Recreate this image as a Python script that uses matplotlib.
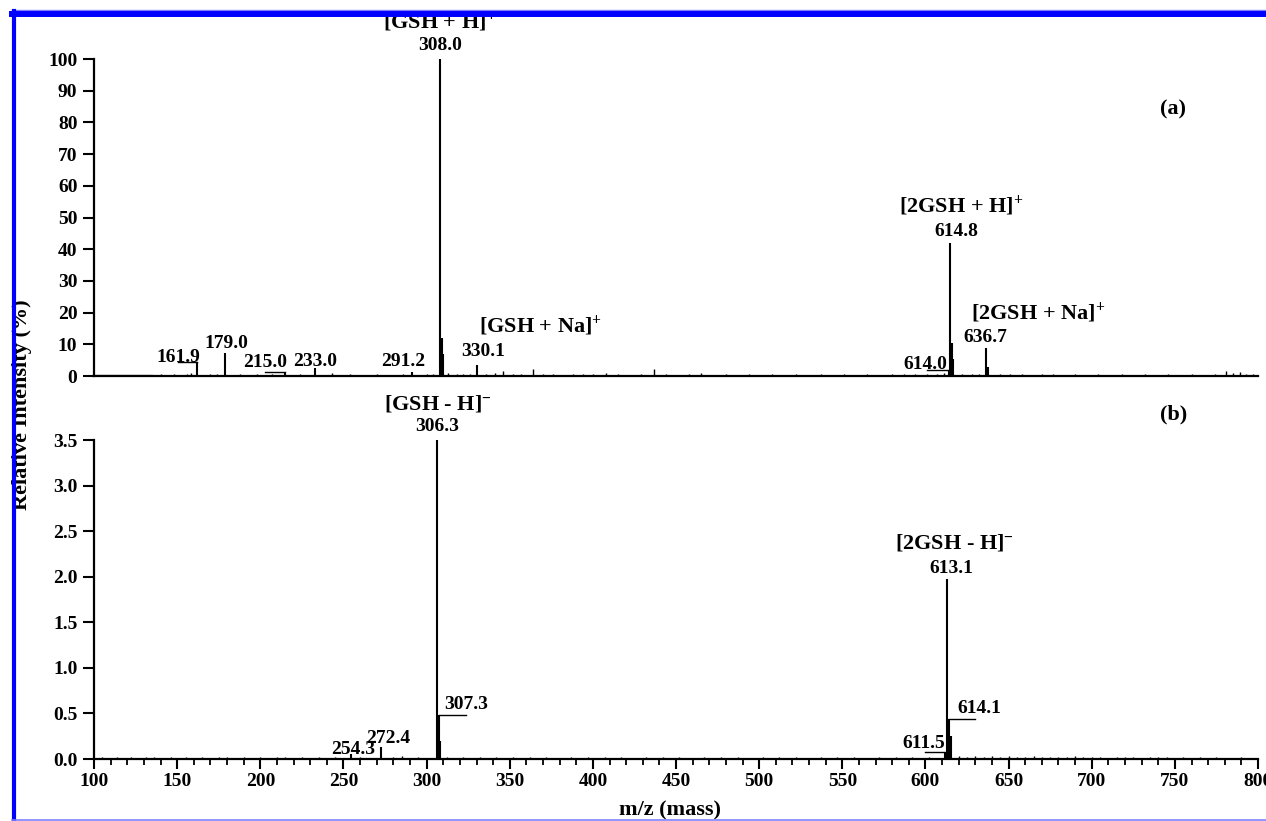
import matplotlib
matplotlib.use("Agg")
import matplotlib.pyplot as plt
from matplotlib.lines import Line2D
from matplotlib.ticker import MultipleLocator

plt.rcParams['font.family'] = ['Liberation Serif', 'DejaVu Serif']
plt.rcParams['font.weight'] = 'bold'
plt.rcParams['mathtext.fontset'] = 'custom'
plt.rcParams['mathtext.rm'] = 'Liberation Serif:bold'
plt.rcParams['mathtext.default'] = 'rm'

# (a) positive ion mode, relative intensity in %
pos_mz = [161.9, 179.0, 215.0, 233.0, 291.2, 308.0, 309.0, 310.0, 330.1,
          614.0, 614.8, 615.8, 616.8, 636.7, 637.7]
pos_int = [4.3, 7.3, 1.3, 2.6, 1.3, 100.0, 12.0, 7.0, 3.5,
           2.0, 42.0, 10.4, 5.5, 8.8, 3.0]
pos_noise_mz = [135, 140, 144, 148, 152, 156, 158, 165, 170, 174, 183, 188, 193,
                198, 203, 207, 211, 219, 224, 228, 238, 243, 248, 254, 259, 264,
                270, 276, 281, 286, 296, 300, 304, 313, 318, 322, 326, 336, 341,
                346, 352, 357, 364, 370, 376, 382, 388, 394, 400, 408, 415, 422,
                429, 437, 444, 451, 458, 465, 472, 480, 487, 494, 501, 508, 515,
                522, 530, 537, 544, 551, 558, 565, 572, 580, 587, 594, 601, 607,
                611, 622, 628, 632, 645, 651, 658, 664, 670, 677, 684, 690, 697,
                704, 711, 718, 725, 732, 739, 746, 753, 760, 767, 774, 781, 785,
                789, 793, 797]
pos_noise_int = [0.3, 0.5, 0.4, 0.6, 0.3, 0.5, 0.8, 0.4, 0.6, 0.5, 0.4, 0.5, 0.3,
                 0.6, 0.4, 0.5, 0.3, 0.4, 0.5, 0.3, 0.4, 0.8, 0.3, 0.5, 0.4, 0.3,
                 0.5, 0.4, 0.3, 0.5, 0.4, 0.6, 0.5, 0.8, 0.6, 0.5, 0.7, 0.5, 0.8,
                 1.5, 0.6, 0.7, 2.2, 0.5, 0.6, 0.4, 0.5, 0.6, 0.5, 0.9, 0.5, 0.4,
                 0.5, 2.3, 0.5, 0.4, 0.5, 0.9, 0.4, 0.5, 0.4, 0.5, 0.4, 0.5, 0.4,
                 0.6, 0.4, 0.5, 0.4, 0.5, 0.4, 0.5, 0.4, 0.6, 0.5, 0.6, 0.5, 0.7,
                 1.0, 0.6, 0.5, 0.7, 0.6, 0.5, 0.5, 0.4, 0.5, 0.6, 0.4, 0.5, 0.4,
                 0.5, 0.4, 0.5, 0.4, 0.5, 0.4, 0.5, 0.4, 0.5, 0.4, 0.6, 1.5, 0.8,
                 1.3, 0.6, 0.5]

# (b) negative ion mode
neg_mz = [254.3, 272.4, 306.3, 307.3, 308.3, 611.5, 613.1, 614.1, 615.1]
neg_int = [0.06, 0.13, 3.5, 0.48, 0.2, 0.08, 1.97, 0.44, 0.25]
neg_noise_mz = [105, 110, 114, 118, 122, 127, 131, 136, 141, 146, 150, 155, 160,
                165, 170, 175, 180, 185, 190, 195, 200, 205, 210, 215, 220, 225,
                230, 235, 240, 245, 250, 260, 265, 280, 285, 290, 295, 300, 312,
                317, 322, 327, 332, 337, 342, 347, 352, 357, 362, 367, 372, 377,
                382, 387, 392, 397, 402, 407, 412, 417, 422, 427, 432, 437, 442,
                447, 452, 457, 462, 467, 472, 477, 482, 487, 492, 497, 502, 507,
                512, 517, 522, 527, 532, 537, 542, 547, 552, 557, 562, 567, 572,
                577, 582, 587, 592, 597, 602, 620, 625, 630, 635, 640, 645, 650,
                655, 660, 665, 670, 675, 680, 685, 690, 695, 700, 705, 710, 715,
                720, 725, 730, 735, 740, 745, 750, 755, 760, 765, 770, 775, 780,
                785, 790, 795]
neg_noise_int = [0.02, 0.01, 0.02, 0.015, 0.02, 0.01, 0.025, 0.02, 0.015, 0.02,
                 0.01, 0.02, 0.015, 0.02, 0.01, 0.02, 0.025, 0.015, 0.02, 0.01,
                 0.02, 0.015, 0.02, 0.025, 0.015, 0.02, 0.01, 0.02, 0.015, 0.02,
                 0.01, 0.02, 0.015, 0.02, 0.03, 0.015, 0.02, 0.01, 0.02, 0.015,
                 0.02, 0.015, 0.02, 0.01, 0.02, 0.015, 0.02, 0.01, 0.02, 0.015,
                 0.02, 0.01, 0.015, 0.02, 0.01, 0.02, 0.015, 0.02, 0.01, 0.02,
                 0.015, 0.01, 0.02, 0.015, 0.02, 0.01, 0.02, 0.015, 0.01, 0.02,
                 0.015, 0.02, 0.01, 0.02, 0.015, 0.01, 0.02, 0.015, 0.02, 0.01,
                 0.02, 0.015, 0.01, 0.02, 0.015, 0.02, 0.01, 0.02, 0.015, 0.01,
                 0.02, 0.015, 0.02, 0.01, 0.02, 0.015, 0.02, 0.03, 0.025, 0.03,
                 0.025, 0.03, 0.02, 0.03, 0.025, 0.02, 0.03, 0.025, 0.02, 0.025,
                 0.02, 0.03, 0.02, 0.025, 0.02, 0.015, 0.02, 0.025, 0.02, 0.015,
                 0.02, 0.025, 0.02, 0.015, 0.02, 0.01, 0.02, 0.015, 0.02, 0.01,
                 0.015, 0.02, 0.01]

pos_ticks = [0, 10, 20, 30, 40, 50, 60, 70, 80, 90, 100]
neg_ticks = [0.0, 0.5, 1.0, 1.5, 2.0, 2.5, 3.0, 3.5]

fig = plt.figure(figsize=(12.66, 8.21), dpi=100)
ax1 = fig.add_axes([0.0743, 0.542, 0.9194, 0.386])
ax2 = fig.add_axes([0.0743, 0.0755, 0.9194, 0.3885])

for ax in (ax1, ax2):
    ax.set_xlim(100, 800)
    for s in ('top', 'right'):
        ax.spines[s].set_visible(False)
    for s in ('left', 'bottom'):
        ax.spines[s].set_linewidth(1.6)
    ax.tick_params(axis='y', direction='out', length=8, width=1.5,
                   labelsize=14, pad=4)

# top panel
ax1.set_ylim(0, 100)
ax1.set_yticks(pos_ticks)
ax1.tick_params(axis='x', bottom=False, labelbottom=False)
ax1.vlines(pos_noise_mz, 0, pos_noise_int, color='black', lw=1.0)
ax1.vlines(pos_mz, 0, pos_int, color='black', lw=1.5)
ax1.plot([100, 135], [0, 0], color='black', lw=1.6)

fs = 14
ax1.text(308.0, 108.0, '[GSH + H]$^{+}$', ha='center', va='bottom', fontsize=16)
ax1.text(308.0, 101.5, '308.0', ha='center', va='bottom', fontsize=fs)
ax1.text(749, 84, '(a)', ha='center', va='center', fontsize=16)
ax1.text(621.5, 50.0, '[2GSH + H]$^{+}$', ha='center', va='bottom', fontsize=16)
ax1.text(618.5, 43.0, '614.8', ha='center', va='bottom', fontsize=fs)
ax1.text(368.5, 12.0, '[GSH + Na]$^{+}$', ha='center', va='bottom', fontsize=16)
ax1.text(334.0, 5.0, '330.1', ha='center', va='bottom', fontsize=fs)
ax1.text(668.0, 16.0, '[2GSH + Na]$^{+}$', ha='center', va='bottom', fontsize=16)
ax1.text(636.0, 9.5, '636.7', ha='center', va='bottom', fontsize=fs)
ax1.text(179.5, 8.8, '179.0', ha='center', va='baseline', fontsize=fs)
ax1.text(233.0, 3.2, '233.0', ha='center', va='baseline', fontsize=fs)
ax1.text(286.0, 3.2, '291.2', ha='center', va='baseline', fontsize=fs)
ax1.text(150.6, 4.5, '161.9', ha='center', va='baseline', fontsize=fs)
ax1.text(203.0, 2.8, '215.0', ha='center', va='baseline', fontsize=fs)
ax1.text(600.0, 2.3, '614.0', ha='center', va='baseline', fontsize=fs)
# leader lines from shifted labels to their peaks
ax1.plot([150.6, 161.9], [4.3, 4.3], color='black', lw=1.0)
ax1.plot([203.0, 215.0], [1.3, 1.3], color='black', lw=1.0)
ax1.plot([601.0, 614.0], [2.0, 2.0], color='black', lw=1.0)

# bottom panel
ax2.set_ylim(0, 3.5)
ax2.set_yticks(neg_ticks)
ax2.set_yticklabels([f'{t:.1f}' for t in neg_ticks])
ax2.xaxis.set_major_locator(MultipleLocator(50))
ax2.xaxis.set_minor_locator(MultipleLocator(10))
ax2.tick_params(axis='x', which='major', direction='out', length=7, width=1.5,
                labelsize=14, pad=3)
ax2.tick_params(axis='x', which='minor', direction='out', length=4, width=1.3)
ax2.vlines(neg_noise_mz, 0, neg_noise_int, color='black', lw=1.0)
ax2.vlines(neg_mz, 0, neg_int, color='black', lw=1.5)

ax2.text(306.6, 3.78, '[GSH - H]$^{-}$', ha='center', va='bottom', fontsize=16)
ax2.text(306.6, 3.55, '306.3', ha='center', va='bottom', fontsize=fs)
ax2.text(749, 3.78, '(b)', ha='center', va='center', fontsize=16)
ax2.text(617.5, 2.25, '[2GSH - H]$^{-}$', ha='center', va='bottom', fontsize=16)
ax2.text(615.7, 2.0, '613.1', ha='center', va='bottom', fontsize=fs)
ax2.text(323.5, 0.55, '307.3', ha='center', va='baseline', fontsize=fs)
ax2.text(277.0, 0.18, '272.4', ha='center', va='baseline', fontsize=fs)
ax2.text(256.0, 0.05, '254.3', ha='center', va='baseline', fontsize=fs)
ax2.text(632.5, 0.5, '614.1', ha='center', va='baseline', fontsize=fs)
ax2.text(598.8, 0.12, '611.5', ha='center', va='baseline', fontsize=fs)
ax2.plot([307.3, 323.5], [0.48, 0.48], color='black', lw=1.0)
ax2.plot([614.1, 629.5], [0.44, 0.44], color='black', lw=1.0)
ax2.plot([600.0, 611.5], [0.08, 0.08], color='black', lw=1.0)

fig.text(0.0174, 0.507, 'Relative Intensity (%)', rotation=90, ha='center',
         va='center', fontsize=16, zorder=1)
fig.text(0.529, 0.0245, 'm/z (mass)', ha='center', va='top', fontsize=16,
         zorder=1)

# frame around the page
fig.add_artist(Line2D([0.0095, 1], [1 - 10 / 821] * 2, color='#8080ff', lw=1.0))
fig.add_artist(Line2D([0.0095, 1], [1 - 14 / 821] * 2, color='#0000ff', lw=4.3))
fig.add_artist(Line2D([14 / 1266] * 2, [0, 1 - 11 / 821], color='#0000ff', lw=3.0))
fig.add_artist(Line2D([0.0095, 1], [1.5 / 821] * 2, color='#8080ff', lw=1.2))

fig.savefig('out.png', dpi=100)
